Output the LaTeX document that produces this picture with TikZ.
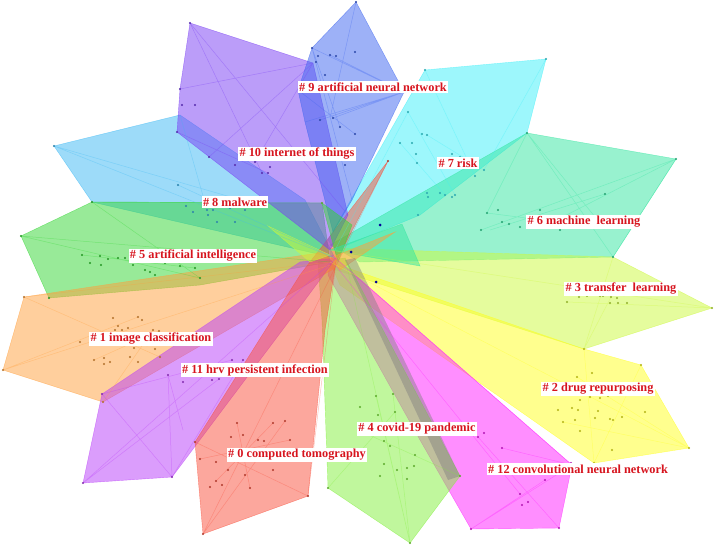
\documentclass[tikz,border=0pt]{standalone}
\usepackage{fontspec}
\setmainfont{Liberation Serif}
\begin{document}
\begin{tikzpicture}[x=1pt,y=-1pt,
  hull/.style={fill=#1, fill opacity=0.5, draw=#1, draw opacity=0.6, line width=0.4pt},
  lnk/.style={draw=#1, opacity=0.35, line width=0.5pt},
  lab/.style={fill=white, text=labred, font=\bfseries\fontsize{12.3}{13}\selectfont, inner sep=1.3pt, anchor=center}]
\definecolor{labred}{RGB}{215,20,30}
\definecolor{cA}{RGB}{120,60,245}  % 10
\definecolor{cB}{RGB}{60,100,240}  % 9
\definecolor{cC}{RGB}{60,185,245}  % 8
\definecolor{cD}{RGB}{60,240,250}  % 7
\definecolor{cE}{RGB}{50,230,160}  % 6
\definecolor{cF}{RGB}{50,215,50}   % 5
\definecolor{cG}{RGB}{255,160,60}  % 1
\definecolor{cH}{RGB}{185,60,250}  % 11
\definecolor{cI}{RGB}{250,80,60}   % 0
\definecolor{cJ}{RGB}{130,240,60}  % 4
\definecolor{cK}{RGB}{255,30,255}  % 12
\definecolor{cL}{RGB}{255,255,30}  % 2
\definecolor{cM}{RGB}{205,250,60}  % 3
\useasboundingbox (0,0) rectangle (714,546);
\fill[white] (0,0) rectangle (714,546);

% hulls
\filldraw[hull=cD] (425,70) -- (546,59) -- (527,133) -- (420,215) -- (335,250) -- (328,240) -- cycle;
\filldraw[hull=cE] (527,133) -- (676,159) -- (613,257) -- (360,262) -- (330,245) -- cycle;
\filldraw[hull=cM] (330,248) -- (613,257) -- (712,308) -- (584,349) -- (330,268) -- cycle;
\filldraw[hull=cL] (330,262) -- (584,349) -- (641,365) -- (689,448) -- (594,463) -- (340,285) -- cycle;
\filldraw[hull=cK] (332,255) -- (572,465) -- (559,528) -- (471,529) -- (420,440) -- (328,275) -- cycle;
\filldraw[hull=cJ] (318,262) -- (345,258) -- (460,476) -- (410,543) -- (328,488) -- (322,320) -- cycle;
\filldraw[hull=cC] (54,146) -- (180,115) -- (305,200) -- (335,258) -- (92,202) -- cycle;
\filldraw[hull=cF] (92,202) -- (21,236) -- (49,298) -- (200,285) -- (330,262) -- (322,203) -- cycle;
\filldraw[hull=cG] (24,297) -- (3,370) -- (103,402) -- (335,268) -- (325,252) -- cycle;
\filldraw[hull=cH] (102,394) -- (83,483) -- (172,477) -- (305,300) -- (336,258) -- (300,262) -- cycle;
\filldraw[hull=cI] (195,442) -- (203,534) -- (308,496) -- (325,330) -- (336,262) -- (388,161) -- (300,275) -- cycle;
\filldraw[hull=cA] (190,23) -- (313,63) -- (348,215) -- (330,250) -- (177,132) -- (180,89) -- cycle;
\filldraw[hull=cB] (356,2) -- (404,92) -- (352,200) -- (333,232) -- (305,122) -- (298,90) -- (312,48) -- cycle;
% small central spikes
\filldraw[hull=cF] (322,203) -- (338,262) -- (352,225) -- cycle;
\filldraw[hull=cM] (268,226) -- (330,255) -- (310,262) -- cycle;
\filldraw[hull=cE] (330,250) -- (402,224) -- (420,266) -- cycle;
\filldraw[hull=cG] (330,258) -- (395,232) -- (340,270) -- cycle;
\fill[gray, opacity=0.45] (345,260) -- (355,258) -- (460,476) -- (448,480) -- cycle;

% links
\draw[lnk=cB] (312,48) -- (404,92) (320,88) -- (404,92) (330,55) -- (404,92) (356,2) -- (330,118) (312,48) -- (340,127) (305,122) -- (404,92) (320,120) -- (404,92) (333,118) -- (404,92) (298,90) -- (355,134) (312,48) -- (352,200);
\draw[lnk=cA] (190,23) -- (262,173) (180,89) -- (313,63) (209,157) -- (313,63) (177,132) -- (268,173) (190,23) -- (348,215) (255,162) -- (313,63);
\draw[lnk=cC] (54,146) -- (255,204) (180,115) -- (207,210) (54,146) -- (335,258) (178,185) -- (335,258);
\draw[lnk=cD] (425,70) -- (475,176) (546,59) -- (484,170) (408,112) -- (455,195) (400,143) -- (445,195) (427,135) -- (484,170) (408,112) -- (335,250);
\draw[lnk=cE] (527,133) -- (487,213) (527,133) -- (604,228) (676,159) -- (481,230) (676,159) -- (613,257) (527,133) -- (613,257) (490,230) -- (605,194) (676,159) -- (545,226) (487,213) -- (604,228);
\draw[lnk=cF] (21,236) -- (200,278) (92,202) -- (200,278) (21,236) -- (330,262) (82,255) -- (195,268) (92,202) -- (322,203);
\draw[lnk=cG] (24,297) -- (160,357) (3,370) -- (138,317) (103,402) -- (153,330) (3,370) -- (330,265) (24,297) -- (330,262) (94,360) -- (159,331);
\draw[lnk=cH] (102,394) -- (232,360) (83,483) -- (219,379) (172,477) -- (168,375) (172,477) -- (243,360) (102,394) -- (172,477) (83,483) -- (336,258) (168,375) -- (183,430);
\draw[lnk=cI] (195,442) -- (308,496) (203,534) -- (285,421) (237,423) -- (250,488) (200,459) -- (290,440) (216,481) -- (273,423) (203,534) -- (388,161) (308,496) -- (336,262);
\draw[lnk=cJ] (460,476) -- (358,430) (410,543) -- (376,396) (410,543) -- (393,394) (328,488) -- (395,412) (410,543) -- (345,258);
\draw[lnk=cK] (471,529) -- (572,465) (559,528) -- (478,437) (471,529) -- (545,480) (478,437) -- (559,528) (502,448) -- (572,465) (332,255) -- (572,465) (335,265) -- (520,494);
\draw[lnk=cL] (689,448) -- (577,377) (594,463) -- (641,365) (689,448) -- (563,422) (584,349) -- (594,463) (330,262) -- (689,448);
\draw[lnk=cM] (712,308) -- (567,302) (584,349) -- (611,297) (613,257) -- (584,349) (330,250) -- (712,308);

% nodes
\foreach \c/\pts in {
 cB/{(312,48),(318,56),(330,55),(336,56),(355,52),(320,120),(333,118),(340,127),(355,134),(320,88),(316,62),(325,75),(340,160),(345,165),(356,2),(404,92)},
 cA/{(190,23),(180,89),(182,105),(195,105),(209,157),(235,165),(255,162),(262,173),(268,173),(270,167),(177,132)},
 cC/{(54,146),(178,185),(186,206),(193,212),(207,210),(213,210),(230,208),(245,210),(255,204),(217,222),(235,222),(208,215)},
 cD/{(425,70),(546,59),(408,112),(422,134),(427,135),(400,143),(412,143),(416,154),(417,163),(452,154),(460,157),(427,193),(428,197),(440,193),(445,195),(452,197),(455,195),(475,176),(484,170),(418,215)},
 cE/{(527,133),(676,159),(613,257),(487,213),(498,210),(502,222),(509,224),(520,227),(530,224),(545,226),(560,230),(577,227),(590,227),(604,228),(605,220),(605,194),(540,210),(481,230)},
 cF/{(92,202),(21,236),(82,255),(100,256),(108,259),(118,258),(125,258),(90,263),(101,265),(133,265),(145,270),(150,272),(165,263),(180,266),(195,268),(200,278),(155,275),(49,298)},
 cG/{(24,297),(3,370),(103,402),(113,318),(118,326),(138,317),(142,320),(115,330),(122,330),(128,328),(153,330),(159,331),(80,342),(134,348),(147,345),(155,349),(94,360),(104,358),(110,362),(130,357),(138,362),(160,357),(104,364)},
 cH/{(102,394),(83,483),(172,477),(168,375),(183,382),(212,380),(219,379),(232,360),(243,360),(220,376)},
 cI/{(195,442),(203,534),(308,496),(237,423),(243,435),(231,437),(273,423),(285,421),(290,440),(264,441),(258,440),(200,459),(216,462),(228,470),(251,460),(245,475),(216,481),(222,485),(210,487),(250,488),(273,470),(388,161)},
 cJ/{(460,476),(410,543),(328,488),(358,430),(376,396),(393,394),(360,407),(378,415),(395,412),(384,441),(390,446),(415,455),(397,470),(407,468),(414,466),(384,464),(380,476),(407,479),(322,203)},
 cK/{(571,463),(559,528),(471,529),(478,437),(502,448),(520,494),(528,502),(522,505),(545,480),(484,433)},
 cL/{(641,365),(689,448),(594,463),(577,377),(592,373),(585,391),(580,400),(590,397),(600,398),(608,396),(558,410),(572,408),(578,410),(598,411),(610,419),(563,422),(575,420),(595,418),(622,417),(645,412),(613,420),(612,450),(580,431),(584,349)},
 cM/{(712,308),(567,302),(579,297),(587,296),(600,296),(603,296),(611,297),(617,298),(624,295),(610,303),(618,303),(627,303),(614,286)}}
{
  \foreach \p in \pts { \fill[\c!70!black] \p circle (1.2); }
}
\fill[blue!60!black] (380,225) circle (1.5) (376,282) circle (1.5) (351,252) circle (1.5);

% labels
\node[lab] (l9)  at (373,87)  {\# 9 artificial neural network};
\node[lab] (l10) at (297,154) {\# 10 internet of things};
\node[lab] (l8)  at (235,202) {\# 8 malware};
\node[lab] (l5)  at (193,256) {\# 5 artificial intelligence};
\node[lab] (l7)  at (458,163) {\# 7 risk};
\node[lab] (l6)  at (584,222) {\# 6 machine\ \ learning};
\node[lab] (l3)  at (621,289) {\# 3 transfer\ \ learning};
\node[lab] (l2)  at (598,389) {\# 2 drug repurposing};
\node[lab] (l4)  at (417,429) {\# 4 covid-19 pandemic};
\node[lab] (l12) at (578,469) {\# 12 convolutional neural network};
\node[lab] (l1)  at (151,339) {\# 1 image classification};
\node[lab] (l11) at (255,370) {\# 11 hrv persistent infection};
\node[lab] (l0)  at (297,455) {\# 0 computed tomography};
\end{tikzpicture}
\end{document}
